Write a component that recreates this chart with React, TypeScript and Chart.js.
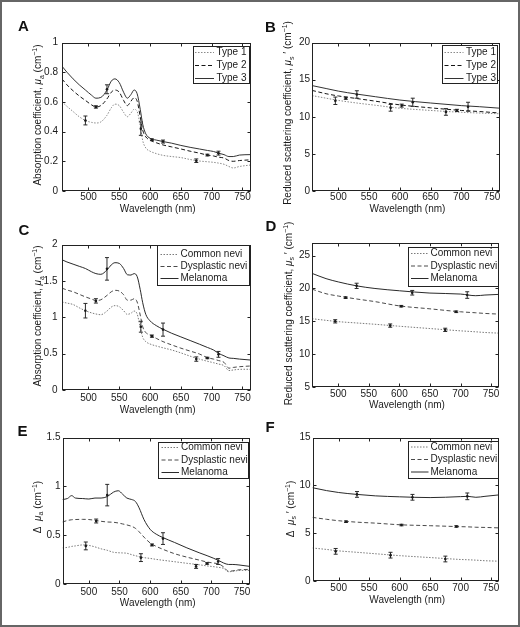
import React, { useEffect, useRef } from 'react';
import { Chart, registerables } from 'chart.js';

Chart.register(...registerables);

const FONT = '"Liberation Sans", Arial, Helvetica, "DejaVu Sans", sans-serif';
Chart.defaults.font.family = FONT;

// ---------------- data ----------------
const X_MIN = 457;
const X_MAX = 763;
const X_TICKS = [500, 550, 600, 650, 700, 750];

const ERR_WL_1 = [495, 585, 675];
const ERR_WL_2 = [512, 603, 693];
const ERR_WL_3 = [530, 621, 711];

const LABELS_AB = ['Type 1', 'Type 2', 'Type 3'];
const LABELS_CF = ['Common nevi', 'Dysplastic nevi', 'Melanoma'];

// Panel A: absorption coefficient by skin type
const WL_A = [457, 465, 475, 485, 495, 505, 512, 520, 530, 537, 543, 550, 557, 563, 569, 574, 579, 584, 588, 593, 600, 610, 621, 635, 650, 665, 680, 693, 703, 711, 720, 728, 735, 745, 763];
const A_TYPE1 = [0.60, 0.57, 0.535, 0.50, 0.475, 0.462, 0.458, 0.465, 0.51, 0.56, 0.585, 0.575, 0.53, 0.50, 0.525, 0.55, 0.535, 0.44, 0.34, 0.29, 0.268, 0.252, 0.24, 0.232, 0.225, 0.212, 0.202, 0.197, 0.193, 0.188, 0.18, 0.165, 0.155, 0.165, 0.175];
const A_TYPE2 = [0.755, 0.715, 0.675, 0.64, 0.61, 0.58, 0.566, 0.575, 0.62, 0.665, 0.68, 0.665, 0.61, 0.575, 0.605, 0.628, 0.605, 0.50, 0.41, 0.365, 0.342, 0.325, 0.31, 0.297, 0.283, 0.268, 0.255, 0.242, 0.236, 0.228, 0.222, 0.205, 0.20, 0.205, 0.21];
const A_TYPE3 = [0.84, 0.80, 0.755, 0.715, 0.68, 0.645, 0.625, 0.63, 0.68, 0.74, 0.755, 0.73, 0.665, 0.625, 0.65, 0.68, 0.655, 0.55, 0.45, 0.385, 0.355, 0.343, 0.333, 0.322, 0.307, 0.294, 0.283, 0.273, 0.266, 0.255, 0.245, 0.232, 0.232, 0.242, 0.245];
const A_ERR1_Y = [0.475, 0.42, 0.204];
const A_ERR1_E = [0.03, 0.045, 0.012];
const A_ERR2_Y = [0.566, 0.345, 0.242];
const A_ERR2_E = [0.008, 0.006, 0.006];
const A_ERR3_Y = [0.685, 0.333, 0.255];
const A_ERR3_E = [0.03, 0.01, 0.013];
const A_YTICKS = [0, 0.2, 0.4, 0.6, 0.8, 1];

// Panel B: reduced scattering by skin type
const WL_B = [457, 480, 500, 530, 560, 600, 650, 700, 730, 763];
const B_TYPE1 = [12.85, 12.5, 12.2, 11.85, 11.55, 11.15, 10.85, 10.6, 10.5, 10.4];
const B_TYPE2 = [13.55, 13.1, 12.8, 12.45, 12.1, 11.6, 11.2, 10.85, 10.7, 10.5];
const B_TYPE3 = [14.2, 13.8, 13.45, 13.05, 12.7, 12.25, 11.85, 11.5, 11.35, 11.15];
const B_ERR1_Y = [12.15, 11.2, 10.65];
const B_ERR1_E = [0.5, 0.45, 0.45];
const B_ERR2_Y = [12.5, 11.5, 10.85];
const B_ERR2_E = [0.15, 0.2, 0.15];
const B_ERR3_Y = [13.0, 11.95, 11.35];
const B_ERR3_E = [0.5, 0.55, 0.6];
const B_YTICKS = [0, 5, 10, 15, 20];

// Panel C: absorption coefficient by lesion
const C_COMMON = [1.21, 1.195, 1.175, 1.13, 1.09, 1.06, 1.045, 1.035, 1.085, 1.14, 1.16, 1.145, 1.09, 1.04, 1.055, 1.085, 1.045, 0.86, 0.725, 0.665, 0.632, 0.605, 0.58, 0.55, 0.51, 0.465, 0.425, 0.395, 0.375, 0.357, 0.335, 0.268, 0.275, 0.284, 0.285];
const C_DYSPL = [1.40, 1.375, 1.35, 1.315, 1.28, 1.25, 1.23, 1.24, 1.30, 1.35, 1.37, 1.36, 1.31, 1.235, 1.235, 1.255, 1.21, 1.03, 0.87, 0.79, 0.755, 0.71, 0.665, 0.62, 0.575, 0.535, 0.495, 0.445, 0.425, 0.405, 0.38, 0.30, 0.31, 0.32, 0.33];
const C_MELAN = [1.79, 1.76, 1.73, 1.70, 1.67, 1.625, 1.60, 1.59, 1.65, 1.72, 1.75, 1.74, 1.67, 1.585, 1.58, 1.60, 1.56, 1.38, 1.20, 1.04, 0.95, 0.885, 0.835, 0.78, 0.73, 0.68, 0.63, 0.585, 0.55, 0.505, 0.47, 0.44, 0.435, 0.425, 0.412];
const C_ERR1_Y = [1.09, 0.87, 0.425];
const C_ERR1_E = [0.1, 0.075, 0.03];
const C_ERR2_Y = [1.225, 0.74, 0.44];
const C_ERR2_E = [0.03, 0.015, 0.01];
const C_ERR3_Y = [1.665, 0.83, 0.49];
const C_ERR3_E = [0.155, 0.09, 0.04];
const C_YTICKS = [0, 0.5, 1, 1.5, 2];

// Panel D: reduced scattering by lesion
const WL_D = [457, 480, 500, 530, 560, 600, 650, 700, 725, 740, 763];
const D_COMMON = [15.4, 15.15, 14.95, 14.75, 14.55, 14.25, 13.9, 13.55, 13.4, 13.3, 13.2];
const D_DYSPL = [19.9, 19.2, 18.85, 18.4, 18.0, 17.35, 16.9, 16.45, 16.3, 16.2, 16.1];
const D_MELAN = [22.3, 21.5, 21.0, 20.4, 20.0, 19.65, 19.3, 19.15, 18.9, 19.0, 19.1];
const D_ERR1_Y = [15.0, 14.35, 13.7];
const D_ERR1_E = [0.25, 0.25, 0.25];
const D_ERR2_Y = [18.6, 17.3, 16.45];
const D_ERR2_E = [0.12, 0.12, 0.12];
const D_ERR3_Y = [20.4, 19.35, 19.0];
const D_ERR3_E = [0.4, 0.35, 0.5];
const D_YTICKS = [5, 10, 15, 20, 25];

// Panel E: delta absorption
const WL_E = [457, 465, 472, 478, 490, 500, 510, 520, 530, 540, 548, 555, 562, 570, 576, 582, 590, 600, 610, 621, 640, 660, 680, 693, 703, 712, 720, 728, 735, 745, 763];
const E_COMMON = [0.37, 0.375, 0.385, 0.39, 0.40, 0.395, 0.38, 0.36, 0.345, 0.325, 0.32, 0.318, 0.315, 0.30, 0.29, 0.28, 0.27, 0.262, 0.252, 0.243, 0.228, 0.212, 0.197, 0.185, 0.178, 0.17, 0.16, 0.125, 0.13, 0.138, 0.14];
const E_DYSPL = [0.635, 0.65, 0.658, 0.66, 0.662, 0.66, 0.652, 0.642, 0.635, 0.632, 0.625, 0.615, 0.605, 0.59, 0.57, 0.535, 0.48, 0.42, 0.385, 0.355, 0.31, 0.275, 0.245, 0.225, 0.215, 0.205, 0.175, 0.13, 0.135, 0.145, 0.15];
const E_MELAN = [0.865, 0.875, 0.905, 0.88, 0.875, 0.87, 0.88, 0.88, 0.895, 0.94, 0.955, 0.92, 0.88, 0.865, 0.845, 0.78, 0.66, 0.56, 0.51, 0.475, 0.425, 0.37, 0.32, 0.29, 0.265, 0.24, 0.215, 0.20, 0.20, 0.195, 0.18];
const E_ERR1_Y = [0.39, 0.27, 0.18];
const E_ERR1_E = [0.04, 0.04, 0.02];
const E_ERR2_Y = [0.645, 0.40, 0.21];
const E_ERR2_E = [0.02, 0.01, 0.008];
const E_ERR3_Y = [0.91, 0.465, 0.23];
const E_ERR3_E = [0.11, 0.06, 0.03];
const E_YTICKS = [0, 0.5, 1, 1.5];

// Panel F: delta reduced scattering
const WL_F = [457, 480, 500, 530, 560, 600, 650, 700, 712, 725, 740, 763];
const F_COMMON = [3.45, 3.3, 3.15, 3.0, 2.85, 2.65, 2.45, 2.25, 2.22, 2.18, 2.12, 2.07];
const F_DYSPL = [6.65, 6.45, 6.3, 6.15, 6.05, 5.88, 5.78, 5.68, 5.66, 5.62, 5.6, 5.55];
const F_MELAN = [9.75, 9.45, 9.25, 9.05, 8.9, 8.8, 8.72, 8.82, 8.85, 8.75, 8.85, 9.0];
const F_ERR1_Y = [3.1, 2.7, 2.3];
const F_ERR1_E = [0.3, 0.3, 0.3];
const F_ERR2_Y = [6.2, 5.85, 5.7];
const F_ERR2_E = [0.08, 0.08, 0.08];
const F_ERR3_Y = [9.05, 8.75, 8.85];
const F_ERR3_E = [0.3, 0.3, 0.35];
const F_YTICKS = [0, 5, 10, 15];

// axis titles (rich text segments)
const X_TITLE = 'Wavelength (nm)';
const T_MUA = [['Absorption coefficient, ', 'n'], ['μ', 'i'], ['a', 'sub'], [' (cm', 'n'], ['−1', 'sup'], [')', 'n']];
const T_MUS = [['Reduced scattering coefficient, ', 'n'], ['μ', 'i'], ['s', 'sub'], [' ′ (cm', 'n'], ['−1', 'sup'], [')', 'n']];
const T_DMUA = [['Δ  ', 'n'], ['μ', 'i'], ['a', 'sub'], [' (cm', 'n'], ['−1', 'sup'], [')', 'n']];
const T_DMUS = [['Δ  ', 'n'], ['μ', 'i'], ['s', 'sub'], [' ′ (cm', 'n'], ['−1', 'sup'], [')', 'n']];

// ---------------- styles / layout ----------------
const STYLE_AB = [
  { color: '#8a8a8a', dash: [1.5, 1.5] },
  { color: '#151515', dash: [4, 2.5] },
  { color: '#333333', dash: [] },
];
const STYLE_CF = [
  { color: '#7a7a7a', dash: [1.5, 1.5] },
  { color: '#4a4a4a', dash: [4, 2.5] },
  { color: '#2a2a2a', dash: [] },
];
const INK = '#1a1a1a';

const PANELS = [
  {
    letter: 'A', letterPos: [23.5, 26.5], area: { l: 62, r: 250.5, t: 42.5, b: 191 }, padL: 0,
    yMin: 0, yMax: 1, yTicks: A_YTICKS, yTickPad: 4, xTickPad: 0, xTitleY: 209.3,
    yTitle: T_MUA, yTitlePos: [37.5, 115],
    legend: { x: 193, y: 46, w: 57, h: 38, rows: [52.5, 65.5, 78.5], s0: 195, s1: 214, tx: 216.5 },
    styles: STYLE_AB, labels: LABELS_AB,
    series: [
      { wl: WL_A, v: A_TYPE1, ew: ERR_WL_1, ey: A_ERR1_Y, ee: A_ERR1_E },
      { wl: WL_A, v: A_TYPE2, ew: ERR_WL_2, ey: A_ERR2_Y, ee: A_ERR2_E },
      { wl: WL_A, v: A_TYPE3, ew: ERR_WL_3, ey: A_ERR3_Y, ee: A_ERR3_E },
    ],
  },
  {
    letter: 'B', letterPos: [270.5, 28], area: { l: 312, r: 500, t: 42.5, b: 191 }, padL: 262,
    yMin: 0, yMax: 20, yTicks: B_YTICKS, yTickPad: 2, xTickPad: 0, xTitleY: 209.3,
    yTitle: T_MUS, yTitlePos: [287.5, 113],
    legend: { x: 442, y: 45, w: 56, h: 39, rows: [52.5, 65.5, 78.5], s0: 444.5, s1: 463.5, tx: 466 },
    styles: STYLE_AB, labels: LABELS_AB,
    series: [
      { wl: WL_B, v: B_TYPE1, ew: ERR_WL_1, ey: B_ERR1_Y, ee: B_ERR1_E },
      { wl: WL_B, v: B_TYPE2, ew: ERR_WL_2, ey: B_ERR2_Y, ee: B_ERR2_E },
      { wl: WL_B, v: B_TYPE3, ew: ERR_WL_3, ey: B_ERR3_Y, ee: B_ERR3_E },
    ],
  },
  {
    letter: 'C', letterPos: [24, 231], area: { l: 62, r: 250.5, t: 244.5, b: 390 }, padL: 0,
    yMin: 0, yMax: 2, yTicks: C_YTICKS, yTickPad: 4.5, xTickPad: 2.3, xTitleY: 410,
    yTitle: T_MUA, yTitlePos: [37.5, 316],
    legend: { x: 157, y: 244.5, w: 93, h: 40.5, rows: [254.5, 266.5, 278.5], s0: 160.5, s1: 178.5, tx: 180.5 },
    styles: STYLE_CF, labels: LABELS_CF,
    series: [
      { wl: WL_A, v: C_COMMON, ew: ERR_WL_1, ey: C_ERR1_Y, ee: C_ERR1_E },
      { wl: WL_A, v: C_DYSPL, ew: ERR_WL_2, ey: C_ERR2_Y, ee: C_ERR2_E },
      { wl: WL_A, v: C_MELAN, ew: ERR_WL_3, ey: C_ERR3_Y, ee: C_ERR3_E },
    ],
  },
  {
    letter: 'D', letterPos: [271, 226.5], area: { l: 312, r: 499, t: 242.5, b: 387 }, padL: 262,
    yMin: 5, yMax: 27, yTicks: D_YTICKS, yTickPad: 2, xTickPad: 1.3, xTitleY: 405.7,
    yTitle: T_MUS, yTitlePos: [288, 313.5],
    legend: { x: 407.5, y: 246.5, w: 90.5, h: 40, rows: [253.5, 266, 278.5], s0: 411, s1: 428.5, tx: 430.5 },
    styles: STYLE_CF, labels: LABELS_CF,
    series: [
      { wl: WL_D, v: D_COMMON, ew: ERR_WL_1, ey: D_ERR1_Y, ee: D_ERR1_E },
      { wl: WL_D, v: D_DYSPL, ew: ERR_WL_2, ey: D_ERR2_Y, ee: D_ERR2_E },
      { wl: WL_D, v: D_MELAN, ew: ERR_WL_3, ey: D_ERR3_Y, ee: D_ERR3_E },
    ],
  },
  {
    letter: 'E', letterPos: [22.5, 431.5], area: { l: 62.5, r: 250, t: 437.5, b: 584 }, padL: 0,
    yMin: 0, yMax: 1.5, yTicks: E_YTICKS, yTickPad: 2, xTickPad: 2.3, xTitleY: 603.3,
    yTitle: T_DMUA, yTitlePos: [37, 507],
    legend: { x: 158, y: 441.7, w: 91, h: 37.3, rows: [447.5, 460, 472.5], s0: 161.5, s1: 179, tx: 181 },
    styles: STYLE_CF, labels: LABELS_CF,
    series: [
      { wl: WL_E, v: E_COMMON, ew: ERR_WL_1, ey: E_ERR1_Y, ee: E_ERR1_E },
      { wl: WL_E, v: E_DYSPL, ew: ERR_WL_2, ey: E_ERR2_Y, ee: E_ERR2_E },
      { wl: WL_E, v: E_MELAN, ew: ERR_WL_3, ey: E_ERR3_Y, ee: E_ERR3_E },
    ],
  },
  {
    letter: 'F', letterPos: [270, 428], area: { l: 312.5, r: 499, t: 437.5, b: 581 }, padL: 262,
    yMin: 0, yMax: 15, yTicks: F_YTICKS, yTickPad: 2, xTickPad: 1.3, xTitleY: 600,
    yTitle: T_DMUS, yTitlePos: [290, 509],
    legend: { x: 407.5, y: 440.7, w: 90.5, h: 37.6, rows: [447, 459.5, 472], s0: 411, s1: 428.5, tx: 430.5 },
    styles: STYLE_CF, labels: LABELS_CF,
    series: [
      { wl: WL_F, v: F_COMMON, ew: ERR_WL_1, ey: F_ERR1_Y, ee: F_ERR1_E },
      { wl: WL_F, v: F_DYSPL, ew: ERR_WL_2, ey: F_ERR2_Y, ee: F_ERR2_E },
      { wl: WL_F, v: F_MELAN, ew: ERR_WL_3, ey: F_ERR3_Y, ee: F_ERR3_E },
    ],
  },
];

const W = 520;
const H = 627;
const X_AXIS_H = 20;

function fontFor(kind: string) {
  if (kind === 'sub' || kind === 'sup') return `7px ${FONT}`;
  if (kind === 'i') return `italic 10px ${FONT}`;
  return `10px ${FONT}`;
}

function drawRich(ctx: CanvasRenderingContext2D, segs: any[], cx: number, cy: number, rot: number) {
  ctx.save();
  ctx.translate(cx, cy);
  ctx.rotate(rot);
  let total = 0;
  for (const s of segs) {
    ctx.font = fontFor(s[1]);
    total += ctx.measureText(s[0]).width;
  }
  let x = -total / 2;
  ctx.textAlign = 'left';
  ctx.textBaseline = 'alphabetic';
  ctx.fillStyle = INK;
  for (const s of segs) {
    ctx.font = fontFor(s[1]);
    const dy = s[1] === 'sub' ? 2.5 : s[1] === 'sup' ? -4 : 0;
    ctx.fillText(s[0], x, 3.6 + dy);
    x += ctx.measureText(s[0]).width;
  }
  ctx.restore();
}

function makeDecor(p: any) {
  return {
    id: 'decor' + p.letter,
    afterDraw(chart: any) {
      const ctx: CanvasRenderingContext2D = chart.ctx;
      const ca = chart.chartArea;
      const xs = chart.scales.x;
      const ys = chart.scales.y;
      ctx.save();

      // error bars
      ctx.lineWidth = 1;
      ctx.setLineDash([]);
      p.series.forEach((s: any) => {
        ctx.strokeStyle = '#2a2a2a';
        ctx.fillStyle = '#1a1a1a';
        s.ew.forEach((w: number, j: number) => {
          const x = xs.getPixelForValue(w);
          const y0 = ys.getPixelForValue(s.ey[j] - s.ee[j]);
          const y1 = ys.getPixelForValue(s.ey[j] + s.ee[j]);
          const yc = ys.getPixelForValue(s.ey[j]);
          ctx.beginPath();
          ctx.moveTo(x, y0);
          ctx.lineTo(x, y1);
          ctx.moveTo(x - 2, y0);
          ctx.lineTo(x + 2, y0);
          ctx.moveTo(x - 2, y1);
          ctx.lineTo(x + 2, y1);
          ctx.stroke();
          ctx.beginPath();
          ctx.arc(x, yc, 1.3, 0, Math.PI * 2);
          ctx.fill();
        });
      });

      // box
      const L = Math.round(ca.left) + 0.5;
      const R = Math.round(ca.right) - 0.5;
      const T = Math.round(ca.top) + 0.5;
      const B = Math.round(ca.bottom) - 0.5;
      ctx.strokeStyle = '#222';
      ctx.lineWidth = 1;
      ctx.strokeRect(L, T, R - L, B - T);

      // inward ticks
      ctx.beginPath();
      X_TICKS.forEach((v) => {
        const px = Math.round(xs.getPixelForValue(v)) + 0.5;
        ctx.moveTo(px, B);
        ctx.lineTo(px, B - 3);
        ctx.moveTo(px, T);
        ctx.lineTo(px, T + 3);
      });
      p.yTicks.forEach((v: number) => {
        const py = Math.round(ys.getPixelForValue(v)) + 0.5;
        ctx.moveTo(L, py);
        ctx.lineTo(L + 3, py);
        ctx.moveTo(R, py);
        ctx.lineTo(R - 3, py);
      });
      ctx.stroke();

      // legend
      const lg = p.legend;
      ctx.fillStyle = '#fff';
      ctx.fillRect(lg.x, lg.y, lg.w, lg.h);
      ctx.strokeStyle = '#222';
      ctx.strokeRect(Math.round(lg.x) + 0.5, Math.round(lg.y) + 0.5, Math.round(lg.w) - 1, Math.round(lg.h) - 1);
      p.labels.forEach((lab: string, i: number) => {
        const st = p.styles[i];
        const ry = lg.rows[i];
        ctx.strokeStyle = st.color;
        ctx.setLineDash(st.dash);
        ctx.beginPath();
        ctx.moveTo(lg.s0, ry);
        ctx.lineTo(lg.s1, ry);
        ctx.stroke();
        ctx.setLineDash([]);
        ctx.fillStyle = INK;
        ctx.font = `10px ${FONT}`;
        ctx.textAlign = 'left';
        ctx.textBaseline = 'middle';
        ctx.fillText(lab, lg.tx, ry);
      });

      // x title
      ctx.fillStyle = INK;
      ctx.font = `10px ${FONT}`;
      ctx.textAlign = 'center';
      ctx.textBaseline = 'middle';
      ctx.fillText(X_TITLE, (ca.left + ca.right) / 2 + 1.5, p.xTitleY);

      // y title
      drawRich(ctx, p.yTitle, p.yTitlePos[0], p.yTitlePos[1], -Math.PI / 2);

      // panel letter
      ctx.fillStyle = '#111';
      ctx.font = `bold 15px ${FONT}`;
      ctx.textAlign = 'center';
      ctx.textBaseline = 'middle';
      ctx.fillText(p.letter, p.letterPos[0], p.letterPos[1]);

      ctx.restore();
    },
  };
}

function buildConfig(p: any): any {
  const a = p.area;
  return {
    type: 'line',
    data: {
      datasets: p.series.map((s: any, i: number) => ({
        label: p.labels[i],
        data: s.wl.map((w: number, k: number) => ({ x: w, y: s.v[k] })),
        borderColor: p.styles[i].color,
        borderDash: p.styles[i].dash,
        borderWidth: 1,
        pointRadius: 0,
        fill: false,
        cubicInterpolationMode: 'monotone',
      })),
    },
    options: {
      animation: false,
      responsive: false,
      maintainAspectRatio: false,
      events: [],
      layout: {
        padding: { left: p.padL, right: W - a.r, top: a.t, bottom: H - a.b - X_AXIS_H },
      },
      plugins: { legend: { display: false }, tooltip: { enabled: false }, title: { display: false } },
      scales: {
        x: {
          type: 'linear',
          min: X_MIN,
          max: X_MAX,
          offset: false,
          grid: { display: false, drawTicks: false },
          border: { display: false },
          ticks: {
            padding: p.xTickPad,
            autoSkip: false,
            maxRotation: 0,
            color: INK,
            font: { size: 10, family: FONT },
            callback: (v: any) => String(v),
          },
          afterBuildTicks: (s: any) => {
            s.ticks = X_TICKS.map((v) => ({ value: v }));
          },
          afterFit: (s: any) => {
            s.height = X_AXIS_H;
          },
        },
        y: {
          type: 'linear',
          min: p.yMin,
          max: p.yMax,
          grid: { display: false, drawTicks: false },
          border: { display: false },
          ticks: {
            padding: p.yTickPad,
            color: INK,
            font: { size: 10, family: FONT },
            callback: (v: any) => String(v),
          },
          afterBuildTicks: (s: any) => {
            s.ticks = p.yTicks.map((v: number) => ({ value: v }));
          },
          afterFit: (s: any) => {
            s.width = a.l - p.padL;
          },
        },
      },
    },
    plugins: [makeDecor(p)],
  };
}

function Panel({ cfg }: { cfg: any }) {
  const ref = useRef<HTMLCanvasElement | null>(null);
  useEffect(() => {
    if (!ref.current) return;
    const chart = new Chart(ref.current, buildConfig(cfg));
    return () => chart.destroy();
  }, [cfg]);
  return (
    <canvas
      ref={ref}
      width={W}
      height={H}
      style={{ position: 'absolute', left: 0, top: 0, width: W, height: H }}
    />
  );
}

export default function App() {
  return (
    <div style={{ position: 'fixed', left: 0, top: 0, width: W, height: H, background: '#fff', overflow: 'hidden' }}>
      <div
        style={{
          position: 'absolute', left: 0, top: 0, width: W, height: H,
          boxSizing: 'border-box', border: '2px solid #666',
        }}
      />
      {PANELS.map((p) => (
        <Panel key={p.letter} cfg={p} />
      ))}
    </div>
  );
}
